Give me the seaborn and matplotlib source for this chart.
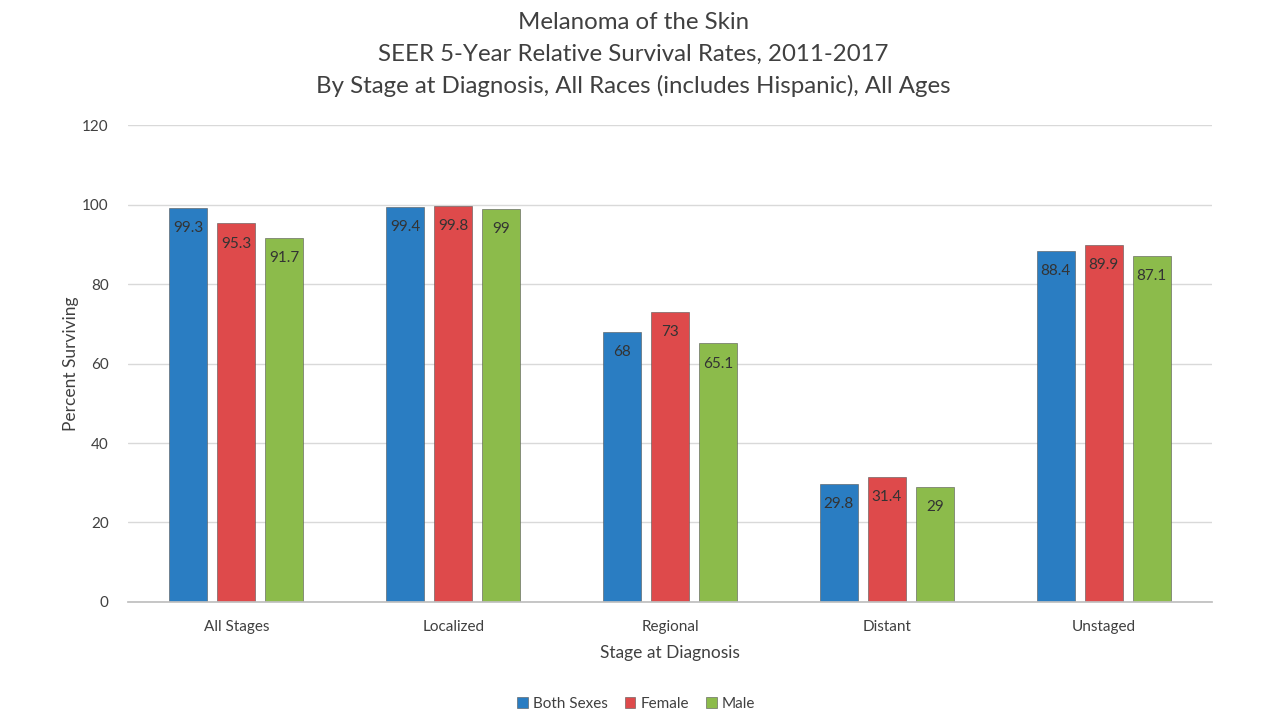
import pandas as pd
import seaborn as sns
import matplotlib.pyplot as plt

stages = ["All Stages", "Localized", "Regional", "Distant", "Unstaged"]
both_sexes = [99.3, 99.4, 68, 29.8, 88.4]
female = [95.3, 99.8, 73, 31.4, 89.9]
male = [91.7, 99, 65.1, 29, 87.1]
groups = ["Both Sexes", "Female", "Male"]
colors = ["#2A7DC2", "#DE4A4B", "#8CBB4B"]

df = pd.DataFrame({
    "stage": stages * 3,
    "group": [g for g in groups for _ in stages],
    "value": both_sexes + female + male,
})

sns.set_theme(style="white")
plt.rcParams["font.family"] = ["Lato", "DejaVu Sans"]

fig = plt.figure(figsize=(12.8, 7.2), dpi=100)
ax = fig.add_axes([0.1, 0.164, 0.847, 0.662])

sns.barplot(data=df, x="stage", y="value", hue="group", palette=colors,
            width=0.664, gap=0.21, ax=ax, saturation=1,
            edgecolor="#555555", linewidth=0.4)

for cont in ax.containers:
    for bar in cont:
        h = bar.get_height()
        ax.annotate(f"{h:g}", (bar.get_x() + bar.get_width() / 2, h),
                    xytext=(0, -9.5), textcoords="offset points",
                    ha="center", va="top", fontsize=11, color="#333333")

ax.set_ylim(0, 120)
ax.set_yticks(range(0, 121, 20))
ax.grid(axis="y", color="#D9D9D9", linewidth=1)
ax.set_axisbelow(True)
for s in ["top", "right", "left"]:
    ax.spines[s].set_visible(False)
ax.spines["bottom"].set_color("#BFBFBF")
ax.tick_params(axis="x", length=0, labelsize=11, colors="#404040", pad=13)
ax.tick_params(axis="y", length=0, labelsize=11, colors="#404040", pad=14)

ax.set_xlabel("Stage at Diagnosis", fontsize=12.5, color="#404040", labelpad=8)
ax.set_ylabel("Percent Surviving", fontsize=12.5, color="#404040", labelpad=2)

fig.suptitle("Melanoma of the Skin\nSEER 5-Year Relative Survival Rates, 2011-2017\n"
             "By Stage at Diagnosis, All Races (includes Hispanic), All Ages",
             x=0.495, y=0.983, fontsize=17.3, color="#404040", linespacing=1.6)

fig.legend(*ax.get_legend_handles_labels(), loc="center", bbox_to_anchor=(0.497, 0.022),
           ncol=3, frameon=False,
           fontsize=11, handlelength=0.7, handleheight=0.7, handletextpad=0.35,
           columnspacing=1.1, labelcolor="#404040")
ax.get_legend().remove()

fig.savefig("out.png", dpi=100)
